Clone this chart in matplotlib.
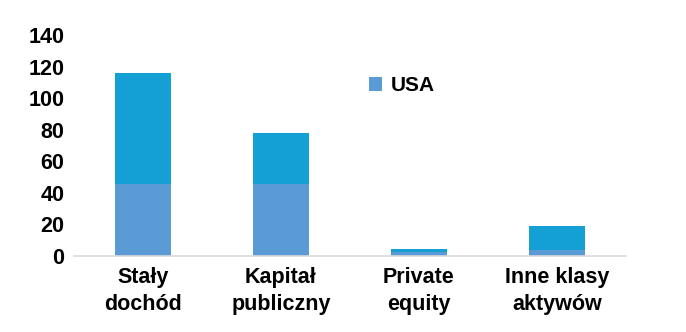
import matplotlib.pyplot as plt
import numpy as np

plt.rcParams['font.family'] = ['Liberation Sans', 'DejaVu Sans']
plt.rcParams['font.weight'] = 'bold'

categories = ['Stały\ndochód', 'Kapitał\npubliczny', 'Private\nequity', 'Inne klasy\naktywów']
usa = [45.5, 45.5, 2.5, 3.6]
rest = [70.5, 32.5, 1.8, 15.4]

fig = plt.figure(figsize=(6.86, 3.32), dpi=100)
ax = fig.add_axes([74 / 686, 1 - 256 / 332, 552 / 686, 221 / 332])

x = np.arange(len(categories))
ax.bar(x, usa, width=0.4, color='#5B9BD5', label='USA')
ax.bar(x, rest, width=0.4, bottom=usa, color='#14A0D4')

ax.set_xlim(-0.5, len(categories) - 0.5)
ax.set_ylim(0, 140)
ax.set_yticks(range(0, 141, 20))
ax.set_xticks(x)
ax.set_xticklabels(categories, linespacing=1.35)

for s in ['top', 'right', 'left']:
    ax.spines[s].set_visible(False)
ax.spines['bottom'].set_color('#D9D9D9')
ax.spines['bottom'].set_linewidth(1.2)
ax.tick_params(axis='x', length=0, labelsize=15.5, pad=8)
ax.tick_params(axis='y', length=0, labelsize=15.5, pad=7)

h, l = ax.get_legend_handles_labels()
ax.legend(h, l, loc='center left', bbox_to_anchor=(0.5, 0.77), frameon=False,
          handlelength=0.65, handleheight=0.65, handletextpad=0.4, fontsize=15)

fig.savefig('out.png', dpi=100)
